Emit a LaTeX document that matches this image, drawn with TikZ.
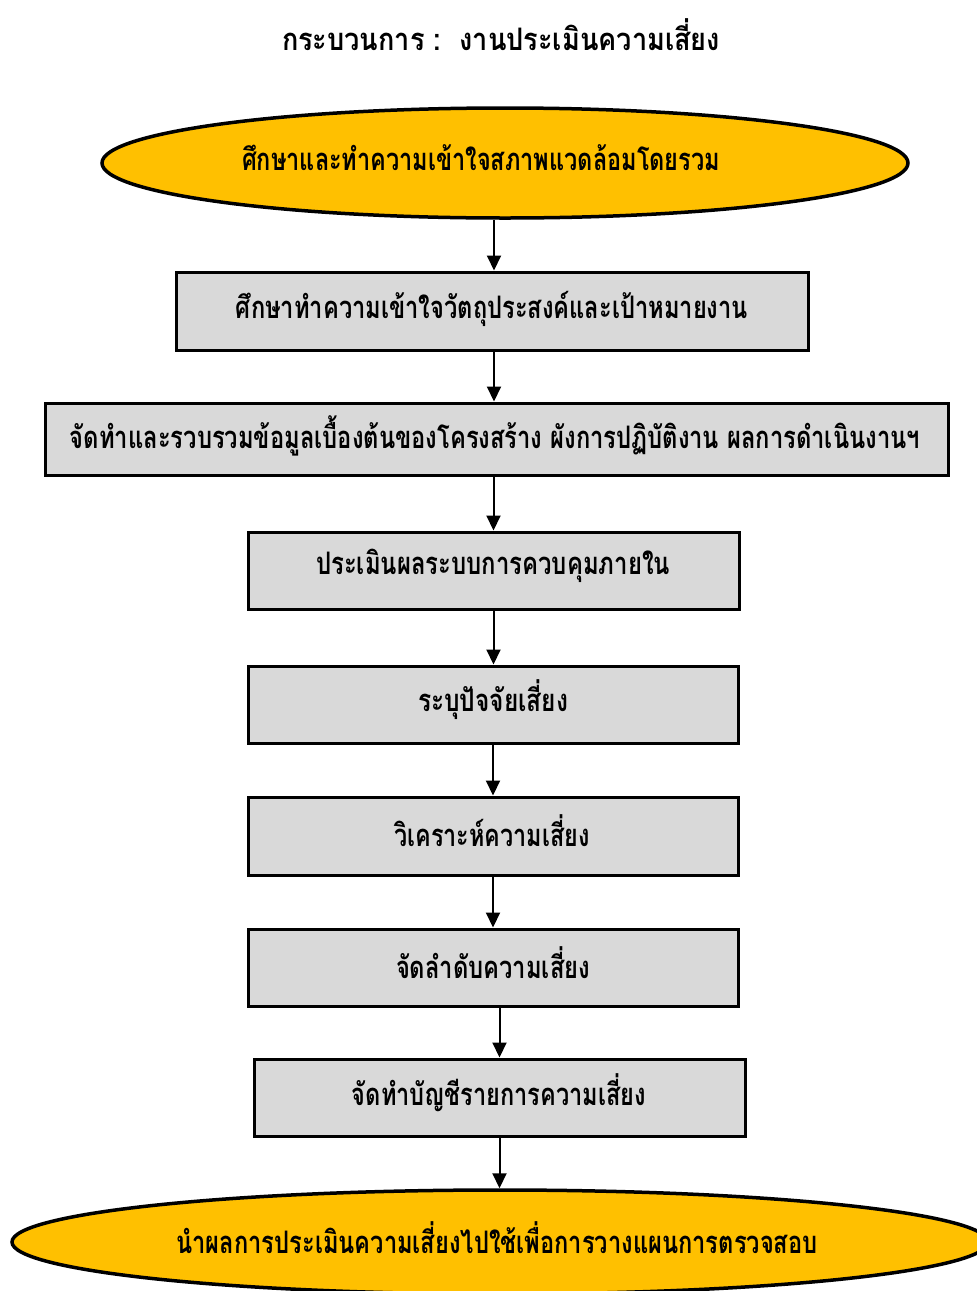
\documentclass[tikz,border=0pt]{standalone}
\usepackage{fontspec}
\usepackage{graphicx}
\usetikzlibrary{shapes.geometric,arrows.meta}
\newfontfamily\thaifont[Script=Thai]{Loma}
\definecolor{gold}{HTML}{FFC000}
\definecolor{boxgray}{HTML}{D9D9D9}
% set a label to an exact width, keeping its height
\newcommand{\wtext}[2]{\resizebox{#1pt}{\height}{#2}}
\tikzset{
  stepbox/.style={draw=black, line width=3pt, fill=boxgray, rectangle, inner sep=0pt},
  oval/.style={draw=black, line width=3.5pt, fill=gold, ellipse, inner sep=0pt},
  lbl/.style={font=\thaifont\bfseries\fontsize{31}{36}\selectfont, inner sep=0pt, anchor=center},
  flow/.style={line width=2pt, -{Triangle[width=14pt,length=15pt]}}
}
\begin{document}
\begin{tikzpicture}[x=1pt,y=-1pt]
\useasboundingbox (0,0) rectangle (977,1291);
\clip (0,0) rectangle (977,1291);
% title
\node[lbl] (title) at (501,35)
  {\wtext{438}{กระบวนการ :\ \ งานประเมินความเสี่ยง}};
% start and end ovals
\node[oval, minimum width=806pt, minimum height=110pt] (e1) at (505,163) {};
\node[lbl] (t1) at (481,158) {\wtext{478}{ศึกษาและทำความเข้าใจสภาพแวดล้อมโดยรวม}};
% process steps
\node[stepbox, minimum width=632pt, minimum height=78pt] (b1) at (492,311) {};
\node[lbl] at (492,309) {\wtext{512}{ศึกษาทำความเข้าใจวัตถุประสงค์และเป้าหมายงาน}};
\node[stepbox, minimum width=903pt, minimum height=72pt] (b2) at (496.5,439) {};
\node[lbl] at (495,436) {\wtext{850}{จัดทำและรวบรวมข้อมูลเบื้องต้นของโครงสร้าง ผังการปฏิบัติงาน ผลการดำเนินงานฯ}};
\node[stepbox, minimum width=491pt, minimum height=77pt] (b3) at (493.5,570.5) {};
\node[lbl] at (493,566) {\wtext{354}{ประเมินผลระบบการควบคุมภายใน}};
\node[stepbox, minimum width=490pt, minimum height=77pt] (b4) at (493,704.5) {};
\node[lbl] at (493,700) {\wtext{150}{ระบุปัจจัยเสี่ยง}};
\node[stepbox, minimum width=490pt, minimum height=78pt] (b5) at (493,836) {};
\node[lbl] at (492,831) {\wtext{195}{วิเคราะห์ความเสี่ยง}};
\node[stepbox, minimum width=490pt, minimum height=77pt] (b6) at (493,967.5) {};
\node[lbl] at (493,963) {\wtext{194}{จัดลำดับความเสี่ยง}};
\node[stepbox, minimum width=491pt, minimum height=77pt] (b7) at (499.5,1097.5) {};
\node[lbl] at (499,1093) {\wtext{294}{จัดทำบัญชีรายการความเสี่ยง}};
\node[oval, minimum width=976pt, minimum height=104pt] (e2) at (500,1242) {};
\node[lbl] (t2) at (497,1238) {\wtext{641}{นำผลการประเมินความเสี่ยงไปใช้เพื่อการวางแผนการตรวจสอบ}};
% connectors
\coordinate (a0) at (494,0);
\draw[flow] (e1.south -| a0) -- (b1.north -| a0);
\draw[flow] (b1.south -| a0) -- (b2.north -| a0);
\draw[flow] (b2.south -| b3.north) -- (b3.north);
\draw[flow] (b3.south) -- (b4.north -| b3.south);
\draw[flow] (b4.south) -- (b5.north -| b4.south);
\draw[flow] (b5.south) -- (b6.north -| b5.south);
\draw[flow] (b6.south -| b7.north) -- (b7.north);
\draw[flow] (b7.south) -- (e2.north -| b7.south);
\end{tikzpicture}
\end{document}
